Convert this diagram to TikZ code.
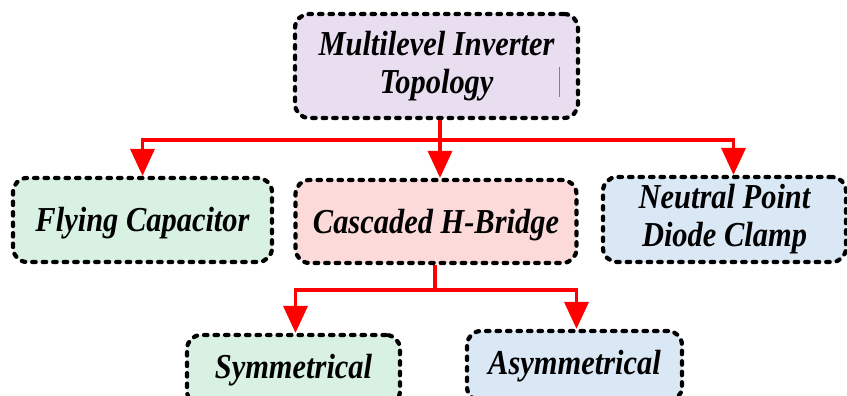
\documentclass[tikz,border=0pt]{standalone}
\usepackage{fontspec}
\setmainfont{Liberation Serif}
\newfontfamily\boxfont[FakeStretch=0.87]{Liberation Serif}
\usetikzlibrary{arrows.meta,calc}
\definecolor{cpurple}{HTML}{E8DEF0}
\definecolor{cgreen}{HTML}{D8F1E2}
\definecolor{cpink}{HTML}{FCDADA}
\definecolor{cblue}{HTML}{DAE7F4}
\definecolor{cred}{HTML}{FF0000}
\tikzset{
  box/.style={draw=black, line width=4.2pt, dash pattern=on 3.5pt off 7pt, line cap=round,
    rounded corners=14pt, align=center, inner sep=0pt,
    font=\boxfont\bfseries\itshape\fontsize{35}{38}\selectfont},
  conn/.style={draw=cred, line width=3.5pt},
  arr/.style={conn, -{Triangle[width=24pt,length=27pt]}},
}
\begin{document}
\begin{tikzpicture}[x=1pt,y=-1pt]
\useasboundingbox (0,0) rectangle (847,396);
\node[box, fill=cpurple, minimum width=283pt, minimum height=104pt] (top) at (436.5,66) {Multilevel Inverter\\Topology};
\node[box, fill=cgreen, minimum width=259pt, minimum height=84pt, text height=25pt, text depth=2pt] (fc) at (142.5,220) {Flying Capacitor};
\node[box, fill=cpink, minimum width=281pt, minimum height=83pt, text height=25pt, text depth=2pt] (chb) at (436,221.5) {Cascaded H-Bridge};
\node[box, fill=cblue, minimum width=243pt, minimum height=85pt] (np) at (724.5,219.5) {Neutral Point\\Diode Clamp};
\node[box, fill=cgreen, minimum width=213pt, minimum height=70pt, text height=38pt, text depth=22pt] (sym) at (293.5,370) {Symmetrical};
\node[box, fill=cblue, minimum width=215pt, minimum height=70pt, text height=38pt, text depth=22pt] (asym) at (574.5,366) {Asymmetrical};
\draw[gray, line width=0.8pt] (559,67) -- (559,97);
\coordinate (j1) at (440,140);
\coordinate (j2) at (435,290);
\draw[conn] (top.south -| j1) -- (j1);
\draw[arr] (j1) -| (fc.north);
\draw[arr] (j1) -- (j1 |- chb.north);
\draw[arr] (j1) -| ([xshift=9pt]np.north);
\draw[conn] (chb.south -| j2) -- (j2);
\draw[arr] (j2) -| ([xshift=2pt]sym.north);
\draw[arr] (j2) -| ([xshift=2pt]asym.north);
\end{tikzpicture}
\end{document}
